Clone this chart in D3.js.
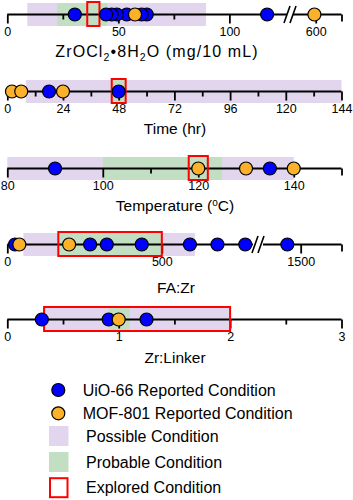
<!DOCTYPE html>
<html>
<head>
<meta charset="utf-8">
<script src="https://cdn.jsdelivr.net/npm/d3@7"></script>
<style>
  body { margin: 0; background: #fff; }
  svg { display: block; font-family: "Liberation Sans", Arial, sans-serif; }
</style>
</head>
<body>
<div id="container"></div>
<script>
// Reported conditions
const zrUio = [117, 62.8, 60.5, 53.8, 49.3, 47, 44.5, 30.4];
const zrMof = [57.5, 599];
const zrPossible = [9, 89.5];
const zrProbable = [22.5, 45];
const zrExplored = [36, 41.5];

const timeUio = [48, 18];
const timeMof = [2, 6, 24];
const timePossible = [8, 144];
const timeProbable = [45, 51];
const timeExplored = [45, 51];

const tempUio = [135, 90];
const tempMof = [120, 130, 140];
const tempPossible = [80, 140];
const tempProbable = [100, 125];
const tempExplored = [118, 122];

const faUio = [1415, 770, 680, 591, 435, 322, 268, 25];
const faMof = [39, 200];
const faPossible = [52, 607];
const faProbable = [165, 500];
const faExplored = [165, 500];

const linkUio = [1.25, 0.91, 0.31];
const linkMof = [1.0];
const linkPossible = [0.33, 2];
const linkProbable = [0.91, 1.1];
const linkExplored = [0.33, 2];

// tick labels
const zrTicks = [0, 50, 100];
const zrTicks2 = [600];
const zrMinor = [25, 75];
const timeTicks = [0, 24, 48, 72, 96, 120, 144];
const timeMinor = [12, 36, 60, 84, 108, 132];
const tempTicks = [80, 100, 120, 140];
const tempMinor = [90, 110, 130];
const faTicks = [0, 500];
const faTicks2 = [1500];
const linkTicks = [0, 1, 2, 3];
const linkMinor = [0.5, 1.5, 2.5];

const legendItems = ['UiO-66 Reported Condition', 'MOF-801 Reported Condition',
  'Possible Condition', 'Probable Condition', 'Explored Condition'];

const colors = {
  uio: '#0000ff', mof: '#fcb12b', possible: '#e2d6ef', probable: '#c3dfc3', explored: '#ff0000'
};

const width = 353, height = 500;
const svg = d3.select('#container').append('svg')
  .attr('width', width).attr('height', height);

const panels = [
  {
    y: 14.5, uio: zrUio, mof: zrMof, possible: zrPossible, probable: zrProbable, explored: zrExplored,
    segs: [
      {domain: [0, 126.4], range: [7.3, 288], major: zrTicks, minor: zrMinor, end: null},
      {domain: [582, 620], range: [292.5, 341.5], major: zrTicks2, minor: [], end: 620}
    ],
    brk: 290, title: 'zr', titleX: 157, titleY: 57
  },
  {
    y: 91.5, uio: timeUio, mof: timeMof, possible: timePossible, probable: timeProbable, explored: timeExplored,
    segs: [{domain: [0, 144], range: [7.3, 341.5], major: timeTicks, minor: timeMinor, end: null}],
    title: 'Time (hr)', titleX: 175, titleY: 134
  },
  {
    y: 168.5, uio: tempUio, mof: tempMof, possible: tempPossible, probable: tempProbable, explored: tempExplored,
    segs: [{domain: [80, 150], range: [7.3, 341.5], major: tempTicks, minor: tempMinor, end: 150}],
    title: 'temp', titleX: 175, titleY: 210.5
  },
  {
    y: 244.5, uio: faUio, mof: faMof, possible: faPossible, probable: faProbable, explored: faExplored,
    segs: [
      {domain: [0, 795], range: [7.3, 253], major: faTicks, minor: [], end: null},
      {domain: [1260, 1760], range: [263, 341.5], major: faTicks2, minor: [], end: 1760}
    ],
    brk: 258, title: 'FA:Zr', titleX: 176, titleY: 293
  },
  {
    y: 319.5, uio: linkUio, mof: linkMof, possible: linkPossible, probable: linkProbable, explored: linkExplored,
    segs: [{domain: [0, 3], range: [7.3, 341.5], major: linkTicks, minor: linkMinor, end: null}],
    title: 'Zr:Linker', titleX: 175, titleY: 363
  }
];

const r = 6.5;

panels.forEach(p => {
  const g = svg.append('g');
  p.segs.forEach(s => { s.x = d3.scaleLinear().domain(s.domain).range(s.range); });
  const main = p.segs[0].x;
  const xOf = v => {
    const s = p.segs.find(s => v >= s.domain[0] && v <= s.domain[1]) || p.segs[0];
    return s.x(v);
  };

  // bands
  g.append('rect')
    .attr('x', main(p.possible[0])).attr('width', main(p.possible[1]) - main(p.possible[0]))
    .attr('y', p.y - 11.5).attr('height', 23).attr('fill', colors.possible);
  g.append('rect')
    .attr('x', main(p.probable[0])).attr('width', main(p.probable[1]) - main(p.probable[0]))
    .attr('y', p.y - 11.5).attr('height', 23).attr('fill', colors.probable);

  // axis segments
  p.segs.forEach(s => {
    g.append('line')
      .attr('x1', s.range[0]).attr('x2', s.range[1])
      .attr('y1', p.y).attr('y2', p.y)
      .attr('stroke', '#000').attr('stroke-width', 2);

    const maj = g.append('g').attr('transform', `translate(0,${p.y})`)
      .call(d3.axisBottom(s.x).tickValues(s.major).tickSize(9).tickPadding(4).tickFormat(d3.format('d')));
    maj.select('.domain').remove();
    maj.selectAll('line').attr('stroke-width', 1.8);
    maj.selectAll('text').attr('font-size', 12.5).attr('fill', '#000')
      .attr('font-family', '"Liberation Sans", Arial, sans-serif');

    if (s.minor.length) {
      const mn = g.append('g').attr('transform', `translate(0,${p.y})`)
        .call(d3.axisBottom(s.x).tickValues(s.minor).tickSize(5).tickFormat(''));
      mn.select('.domain').remove();
      mn.selectAll('line').attr('stroke-width', 1.8);
    }
    if (s.end !== null) {
      const en = g.append('g').attr('transform', `translate(0,${p.y})`)
        .call(d3.axisBottom(s.x).tickValues([s.end]).tickSize(7).tickFormat(''));
      en.select('.domain').remove();
      en.selectAll('line').attr('stroke-width', 1.8);
    }
  });

  // axis break
  if (p.brk) {
    g.append('rect').attr('x', p.brk - 3).attr('y', p.y - 2).attr('width', 6).attr('height', 4).attr('fill', '#fff');
    [-3, 3].forEach(dx => {
      g.append('line')
        .attr('x1', p.brk + dx - 3).attr('y1', p.y + 8.5)
        .attr('x2', p.brk + dx + 3).attr('y2', p.y - 8.5)
        .attr('stroke', '#000').attr('stroke-width', 1.6);
    });
  }

  // explored box
  g.append('rect')
    .attr('x', main(p.explored[0])).attr('width', main(p.explored[1]) - main(p.explored[0]))
    .attr('y', p.y - 12.5).attr('height', 24)
    .attr('fill', 'none').attr('stroke', colors.explored).attr('stroke-width', 2);

  // points
  g.selectAll('circle.uio').data(p.uio).enter().append('circle')
    .attr('class', 'uio').attr('cx', d => xOf(d)).attr('cy', p.y).attr('r', r)
    .attr('fill', colors.uio).attr('stroke', '#000').attr('stroke-width', 1.2);
  g.selectAll('circle.mof').data(p.mof).enter().append('circle')
    .attr('class', 'mof').attr('cx', d => xOf(d)).attr('cy', p.y).attr('r', r)
    .attr('fill', colors.mof).attr('stroke', '#000').attr('stroke-width', 1.2);

  // titles
  const t = g.append('text').attr('x', p.titleX).attr('y', p.titleY)
    .attr('text-anchor', 'middle').attr('font-size', 15.5).attr('fill', '#000');
  if (p.title === 'zr') {
    t.attr('font-size', 16).attr('letter-spacing', 1.1);
    t.append('tspan').text('ZrOCl');
    t.append('tspan').attr('font-size', 10.5).attr('dy', 4).text('2');
    t.append('tspan').attr('dy', -4).text('•8H');
    t.append('tspan').attr('font-size', 10.5).attr('dy', 4).text('2');
    t.append('tspan').attr('dy', -4).text('O (mg/10 mL)');
  } else if (p.title === 'temp') {
    t.append('tspan').text('Temperature (');
    t.append('tspan').attr('font-size', 10).attr('dy', -5).text('o');
    t.append('tspan').attr('dy', 5).text('C)');
  } else {
    t.text(p.title);
  }
});

// legend
const leg = svg.append('g');
const legRows = [390, 413.3, 436, 462, 487.7];
leg.append('circle').attr('cx', 58.3).attr('cy', legRows[0]).attr('r', r)
  .attr('fill', colors.uio).attr('stroke', '#000').attr('stroke-width', 1.2);
leg.append('circle').attr('cx', 58.3).attr('cy', legRows[1]).attr('r', r)
  .attr('fill', colors.mof).attr('stroke', '#000').attr('stroke-width', 1.2);
leg.append('rect').attr('x', 49).attr('y', legRows[2] - 10).attr('width', 19.5).attr('height', 20)
  .attr('fill', colors.possible);
leg.append('rect').attr('x', 49).attr('y', legRows[3] - 10).attr('width', 19.5).attr('height', 20)
  .attr('fill', colors.probable);
leg.append('rect').attr('x', 50).attr('y', legRows[4] - 9.5).attr('width', 17.5).attr('height', 19)
  .attr('fill', '#fff').attr('stroke', colors.explored).attr('stroke-width', 2);

leg.selectAll('text').data(legendItems).enter().append('text')
  .attr('x', (d, i) => i < 2 ? 82.7 : 86)
  .attr('y', (d, i) => legRows[i] + 5.5)
  .attr('font-size', 16).attr('fill', '#000')
  .text(d => d);
</script>
</body>
</html>
